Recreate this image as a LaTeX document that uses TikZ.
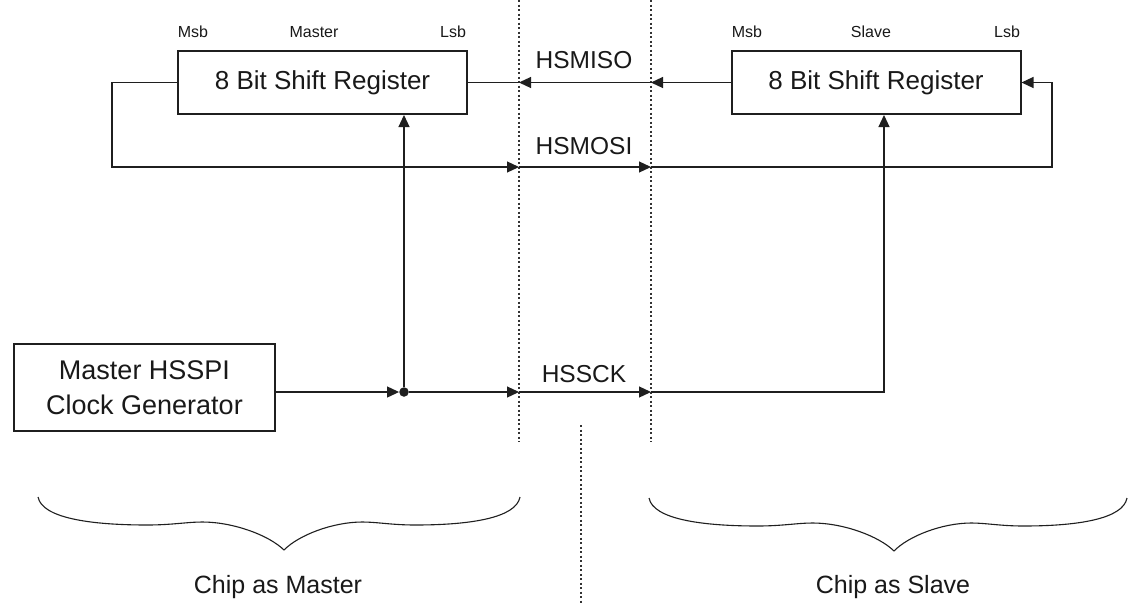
\documentclass[tikz,border=0pt]{standalone}
\usepackage{fontspec}
\setmainfont{Liberation Sans}
\usetikzlibrary{arrows.meta}
\begin{document}
\begin{tikzpicture}[x=1pt,y=-1pt,
 regbox/.style={draw=black!88, line width=2pt, minimum width=289pt, minimum height=63pt, inner sep=0pt, font=\fontsize{26}{30}\selectfont, text=black!90},
 wire/.style={draw=black!88, line width=1.2pt},
 arr/.style={wire, -{Triangle[length=12pt,width=11pt]}},
 divider/.style={draw=black!80, line width=1.1pt, dash pattern=on 2pt off 2.5pt},
 small/.style={font=\fontsize{16}{19}\selectfont, text=black!90, anchor=base, inner sep=0pt},
 sig/.style={font=\fontsize{24.5}{28}\selectfont, text=black!90, anchor=base, inner sep=0pt},
 big/.style={font=\fontsize{25}{30}\selectfont, text=black!90, anchor=base, inner sep=0pt},
 brace/.style={draw=black!88, line width=1.1pt},
]
\useasboundingbox (0,0) rectangle (1138,603);
\fill[white] (0,0) rectangle (1138,603);

% dividers
\coordinate (dAt) at (519,0);   \coordinate (dAb) at (519,442);
\coordinate (dBt) at (651,0);   \coordinate (dBb) at (651,442);
\coordinate (dCt) at (581,425); \coordinate (dCb) at (581,603);
\draw[divider] (dAt) -- (dAb);
\draw[divider] (dBt) -- (dBb);
\draw[divider] (dCt) -- (dCb);

% boxes
\node[regbox] (mreg) at (322.5,82.5) {8 Bit Shift Register};
\node[regbox] (sreg) at (876,82.5) {8 Bit Shift Register};
\node[regbox, minimum width=261pt, minimum height=87pt, align=center, font=\fontsize{27}{35}\selectfont] (clk) at (144.5,387.5) {Master HSSPI\\Clock Generator};

% small labels
\node[small] (mmsb) at (193,37) {Msb};
\node[small] (mname) at (314,37) {Master};
\node[small] (mlsb) at (453,37) {Lsb};
\node[small] (smsb) at (747,37) {Msb};
\node[small] (sname) at (871,37) {Slave};
\node[small] (slsb) at (1007,37) {Lsb};

% signal labels
\node[sig] (lmiso) at (584,68) {HSMISO};
\node[sig] (lmosi) at (584,154) {HSMOSI};
\node[sig] (lsck) at (584,382) {HSSCK};

% HSMISO
\coordinate (misoB) at (651,82.5);
\coordinate (misoA) at (519,82.5);
\draw[arr] (sreg.west) -- (misoB);
\draw[arr] (misoB) -- (misoA);
\draw[wire] (misoA) -- (mreg.east);

% HSMOSI
\coordinate (mosiL) at (112,167);
\coordinate (mosiA) at (519,167);
\coordinate (mosiB) at (651,167);
\coordinate (mosiR) at (1052,167);
\draw[arr] (mreg.west) -| (mosiL) -- (mosiA);
\draw[arr] (mosiA) -- (mosiB);
\draw[arr] (mosiB) -- (mosiR) |- (sreg.east);
\coordinate (mosiX1) at (686,167);
\coordinate (mosiX2) at (692,167);
\draw[wire, line width=2.2pt] (mosiX1) -- (mosiX2);

% HSSCK
\node[circle, fill=black!88, inner sep=0pt, minimum size=9.5pt] (dot) at (404,392) {};
\coordinate (ckA) at (519,392);
\coordinate (ckB) at (651,392);
\coordinate (ckS) at (884,392);
\draw[arr] (clk.east |- dot) -- (dot.west);
\draw[arr] (dot) -- (ckA);
\draw[arr] (ckA) -- (ckB);
\draw[arr] (ckB) -- (ckS) -- (ckS |- sreg.south);
\draw[arr] (dot) -- (dot |- mreg.south);
\coordinate (ckX1) at (433,392);
\coordinate (ckX2) at (495,392);
\draw[wire, line width=2.2pt] (ckX1) -- (ckX2);

% braces
\begin{scope}[shift={(284,550)}]
 \begin{scope}[xscale=1.0207]
  \draw[brace] (-241,-53) .. controls (-237,-32) and (-190,-25) .. (-134,-25) .. controls (-110,-25) and (-95,-28) .. (-80,-28) .. controls (-50,-28) and (-15,-15) .. (0,0);
 \end{scope}
 \begin{scope}[xscale=0.9793]
  \draw[brace] (241,-53) .. controls (237,-32) and (190,-25) .. (134,-25) .. controls (110,-25) and (95,-28) .. (80,-28) .. controls (50,-28) and (15,-15) .. (0,0);
 \end{scope}
\end{scope}
\begin{scope}[shift={(894,551)}]
 \begin{scope}[xscale=1.0166]
  \draw[brace] (-241,-53) .. controls (-237,-32) and (-190,-25) .. (-134,-25) .. controls (-110,-25) and (-95,-28) .. (-80,-28) .. controls (-50,-28) and (-15,-15) .. (0,0);
 \end{scope}
 \begin{scope}[xscale=0.9668]
  \draw[brace] (241,-53) .. controls (237,-32) and (190,-25) .. (134,-25) .. controls (110,-25) and (95,-28) .. (80,-28) .. controls (50,-28) and (15,-15) .. (0,0);
 \end{scope}
\end{scope}

\node[big] (cm) at (278,593) {Chip as Master};
\node[big] (cs) at (893,593) {Chip as Slave};
\end{tikzpicture}
\end{document}
